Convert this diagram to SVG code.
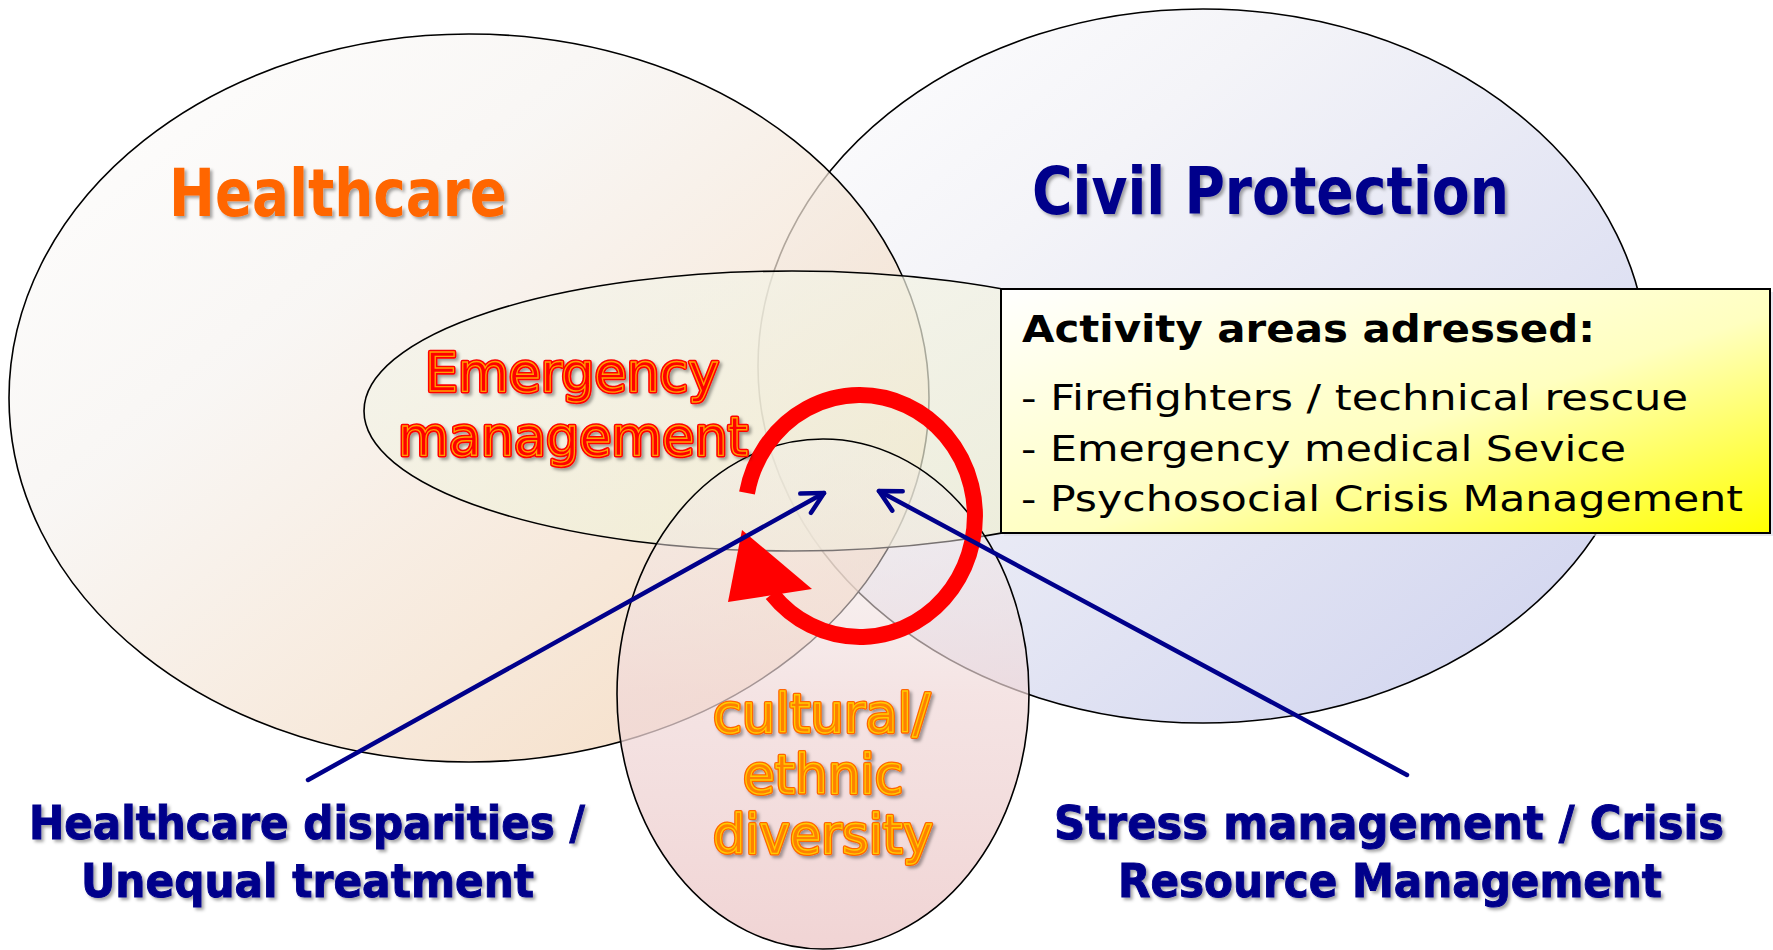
<svg xmlns="http://www.w3.org/2000/svg" width="1773" height="950" viewBox="0 0 1773 950">
<style>
.edge{stroke:#000;stroke-width:1.6}
.lbl{font-family:"DejaVu Sans","Liberation Sans",sans-serif;font-weight:bold}
.lbn{font-family:"DejaVu Sans","Liberation Sans",sans-serif;font-weight:normal}
.box{font-family:"DejaVu Sans","Liberation Sans",sans-serif}
.navy{fill:#00008B;stroke:#00008B;stroke-width:1}
.conn{stroke:#00008B;stroke-width:4.5;fill:none;stroke-linecap:round}
</style>
<defs>
<linearGradient id="gHC" x1="0" y1="0" x2="1" y2="1">
<stop offset="0" stop-color="#FFFFFF"/><stop offset="0.35" stop-color="#F6F3F0"/><stop offset="1" stop-color="#F2CDA8"/>
</linearGradient>
<linearGradient id="gCP" x1="0" y1="0" x2="1" y2="1">
<stop offset="0" stop-color="#FFFFFF"/><stop offset="0.3" stop-color="#F4F4F8"/><stop offset="1" stop-color="#CDD1EE"/>
</linearGradient>
<linearGradient id="gEM" x1="0" y1="0" x2="1" y2="1">
<stop offset="0" stop-color="#F4F4EE" stop-opacity="0.7"/><stop offset="1" stop-color="#EEEECC" stop-opacity="0.7"/>
</linearGradient>
<linearGradient id="gCU" x1="0" y1="0" x2="0" y2="1">
<stop offset="0" stop-color="#F2F0EE" stop-opacity="0.35"/><stop offset="0.5" stop-color="#F0D8D8" stop-opacity="0.7"/><stop offset="1" stop-color="#F0D2D2" stop-opacity="0.95"/>
</linearGradient>
<linearGradient id="gBox" x1="0" y1="0" x2="1" y2="1">
<stop offset="0" stop-color="#FFFFFF"/><stop offset="0.55" stop-color="#FFFFC0"/><stop offset="1" stop-color="#FFFF00"/>
</linearGradient>
<filter id="sh" x="-10%" y="-20%" width="120%" height="150%">
<feDropShadow dx="2.5" dy="2.5" stdDeviation="1.5" flood-color="#000" flood-opacity="0.35"/>
</filter>
<marker id="open" markerUnits="userSpaceOnUse" viewBox="-26 -16 30 32" refX="0" refY="0" markerWidth="30" markerHeight="32" orient="auto" overflow="visible">
<path d="M-21,-11 L0,0 L-21,11" fill="none" stroke="#00008B" stroke-width="4.5" stroke-linecap="round" stroke-linejoin="round"/>
</marker>
</defs>
<rect width="1773" height="950" fill="#FFFFFF"/>

<g id="civil-protection">
<ellipse cx="1203" cy="366" rx="445" ry="357" fill="url(#gCP)" class="edge"/>
<text class="lbl" x="1032" y="214" font-size="66" fill="#00008B" textLength="477" lengthAdjust="spacingAndGlyphs" filter="url(#sh)">Civil Protection</text>
</g>

<g id="healthcare">
<ellipse cx="469" cy="398" rx="460" ry="364" fill="url(#gHC)" fill-opacity="0.72" class="edge"/>
<text class="lbl" x="169" y="216" font-size="66" fill="#FF6600" textLength="338" lengthAdjust="spacingAndGlyphs" filter="url(#sh)">Healthcare</text>
</g>

<g id="emergency-management">
<ellipse cx="792" cy="411" rx="428" ry="140" fill="url(#gEM)" class="edge"/>
</g>

<g id="cultural-diversity">
<ellipse cx="823" cy="694" rx="206" ry="255" fill="url(#gCU)" class="edge"/>
</g>

<g id="cycle">
<path d="M747,493 A115,121 0 1 1 772,594" fill="none" stroke="#FF0000" stroke-width="16"/>
<polygon points="742,530 728,602 812,589" fill="#FF0000"/>
</g>

<g id="em-label" filter="url(#sh)">
<g class="lbn" font-size="53" fill="#FF0000" stroke="#FF0000" stroke-width="4.5" stroke-linejoin="round">
<text x="425" y="391" textLength="294" lengthAdjust="spacingAndGlyphs">Emergency</text>
<text x="398" y="455" textLength="350" lengthAdjust="spacingAndGlyphs">management</text>
</g>
<g class="lbn" font-size="53" fill="#FF0000" stroke="#FFA000" stroke-width="1.3">
<text x="425" y="391" textLength="294" lengthAdjust="spacingAndGlyphs">Emergency</text>
<text x="398" y="455" textLength="350" lengthAdjust="spacingAndGlyphs">management</text>
</g>
</g>

<g id="cu-label" filter="url(#sh)">
<g class="lbn" font-size="53" fill="#FF7700" stroke="#FF6600" stroke-width="4" stroke-linejoin="round">
<text x="713" y="732" textLength="217" lengthAdjust="spacingAndGlyphs">cultural/</text>
<text x="743" y="793" textLength="160" lengthAdjust="spacingAndGlyphs">ethnic</text>
<text x="713" y="853" textLength="220" lengthAdjust="spacingAndGlyphs">diversity</text>
</g>
<g class="lbn" font-size="53" fill="#FF8000" stroke="#FFCC00" stroke-width="1.3">
<text x="713" y="732" textLength="217" lengthAdjust="spacingAndGlyphs">cultural/</text>
<text x="743" y="793" textLength="160" lengthAdjust="spacingAndGlyphs">ethnic</text>
<text x="713" y="853" textLength="220" lengthAdjust="spacingAndGlyphs">diversity</text>
</g>
</g>

<g id="connectors">
<line class="conn" x1="308" y1="780" x2="824" y2="493" marker-end="url(#open)"/>
<line class="conn" x1="1407" y1="775" x2="879" y2="491" marker-end="url(#open)"/>
</g>

<g id="activity-box">
<rect x="1004" y="292" width="769" height="244" fill="#D8D8E4" opacity="0.6"/>
<rect x="1001" y="289" width="769" height="244" fill="url(#gBox)" stroke="#000" stroke-width="2"/>
<text class="box" x="1022" y="342" font-size="37" font-weight="bold" fill="#000" textLength="573" lengthAdjust="spacingAndGlyphs">Activity areas adressed:</text>
<text class="box" x="1021" y="410" font-size="36" fill="#000" textLength="667" lengthAdjust="spacingAndGlyphs">- Firefighters / technical rescue</text>
<text class="box" x="1021" y="461" font-size="36" fill="#000" textLength="605" lengthAdjust="spacingAndGlyphs">- Emergency medical Sevice</text>
<text class="box" x="1021" y="511" font-size="36" fill="#000" textLength="722" lengthAdjust="spacingAndGlyphs">- Psychosocial Crisis Management</text>
</g>

<g id="hd-label" filter="url(#sh)">
<text class="lbl navy" x="29" y="839" font-size="46" textLength="556" lengthAdjust="spacingAndGlyphs">Healthcare disparities /</text>
<text class="lbl navy" x="81" y="897" font-size="46" textLength="453" lengthAdjust="spacingAndGlyphs">Unequal treatment</text>
</g>

<g id="sm-label" filter="url(#sh)">
<text class="lbl navy" x="1054" y="839" font-size="46" textLength="670" lengthAdjust="spacingAndGlyphs">Stress management / Crisis</text>
<text class="lbl navy" x="1118" y="897" font-size="46" textLength="544" lengthAdjust="spacingAndGlyphs">Resource Management</text>
</g>
</svg>
